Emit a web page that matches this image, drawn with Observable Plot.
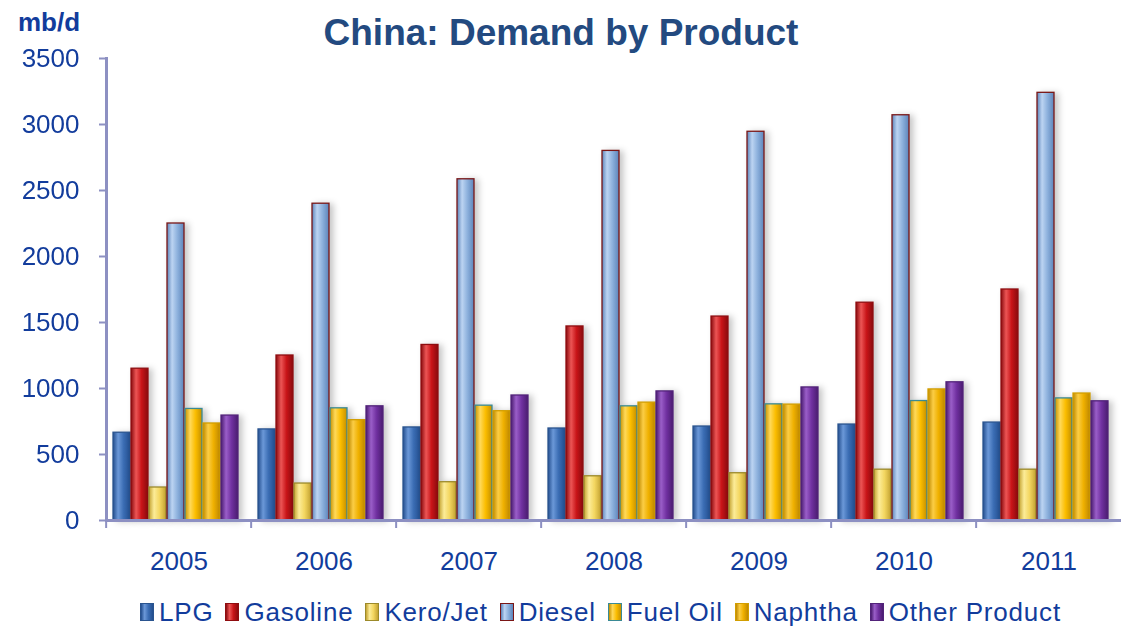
<!DOCTYPE html>
<html>
<head>
<meta charset="utf-8">
<script src="https://cdn.jsdelivr.net/npm/d3@7"></script>
<script src="https://cdn.jsdelivr.net/npm/@observablehq/plot@0.6"></script>
<style>
  body { margin: 0; background: #fff; font-family: "Liberation Sans", Arial, sans-serif; }
  #wrap { position: relative; width: 1125px; height: 626px; overflow: hidden; }
  #unit { position: absolute; left: 18px; top: 9px; font-size: 26px; font-weight: bold; color: #123c9c; line-height: 1; }
  #title { position: absolute; left: 0; width: 1122px; text-align: center; top: 14px; font-size: 37px; font-weight: bold; color: #234a80; line-height: 1; }
  #chart { position: absolute; left: 0; top: 36px; }
  #chart g[aria-label="bar"] { filter: drop-shadow(4px 1px 3px rgba(0,0,0,0.22)); }
  #legend { position: absolute; top: 599px; left: 140px; display: flex; align-items: center; white-space: nowrap; }
  .item { display: flex; align-items: center; margin-right: 12px; }
  .sw { width: 14px; height: 18px; margin-right: 5px; box-sizing: border-box; border: 1.5px solid; }
  .lab { font-size: 26px; color: #123c9c; line-height: 1; letter-spacing: 0.8px; }
</style>
</head>
<body>
<svg width="0" height="0" style="position:absolute">
  <defs id="gdefs"></defs>
</svg>
<div id="wrap">
  <div id="unit">mb/d</div>
  <div id="title">China: Demand by Product</div>
  <div id="chart"></div>
  <div id="legend"></div>
</div>
<script>
// ---- data ----
const years = ["2005", "2006", "2007", "2008", "2009", "2010", "2011"];
const products = ["LPG", "Gasoline", "Kero/Jet", "Diesel", "Fuel Oil", "Naphtha", "Other Product"];
const lpg      = [665, 690, 705, 697, 712, 727, 742];
const gasoline = [1150, 1250, 1330, 1470, 1545, 1650, 1750];
const keroJet  = [250, 280, 290, 335, 358, 385, 385];
const diesel   = [2250, 2400, 2585, 2800, 2945, 3070, 3240];
const fuelOil  = [845, 850, 870, 865, 880, 905, 925];
const naphtha  = [735, 760, 828, 893, 878, 993, 962];
const other    = [795, 865, 947, 978, 1008, 1047, 903];
const yTicks   = [0, 500, 1000, 1500, 2000, 2500, 3000, 3500];

const series = [lpg, gasoline, keroJet, diesel, fuelOil, naphtha, other];
const rows = years.flatMap((yr, i) => products.map((p, j) => ({year: yr, product: p, value: series[j][i]})));

// ---- styles ----
// [dark edge, highlight, base, outline]
const shades = [
  ["#234e8e", "#6b98d8", "#3b6db4", "#2a548f"],
  ["#8a0b0e", "#ec5555", "#c81418", "#8f0d10"],
  ["#c4a332", "#fcec98", "#f3d660", "#9c8a2a"],
  ["#5c84ba", "#bcd4f2", "#8cb0dc", "#7a1616"],
  ["#c59000", "#ffd95a", "#fbbd00", "#3a8a95"],
  ["#bf8900", "#fbcd45", "#efb000", "#d29e00"],
  ["#4a1c70", "#9a5ec8", "#7030a0", "#52237a"]
];
const axisCol = "#8d90c2";
const textCol = "#123c9c";

const defs = d3.select("#gdefs");
shades.forEach((s, j) => {
  const g = defs.append("linearGradient").attr("id", "grad" + j).attr("x1", "0").attr("x2", "1").attr("y1", "0").attr("y2", "0");
  g.append("stop").attr("offset", "0").attr("stop-color", s[0]);
  g.append("stop").attr("offset", "0.3").attr("stop-color", s[1]);
  g.append("stop").attr("offset", "0.62").attr("stop-color", s[2]);
  g.append("stop").attr("offset", "1").attr("stop-color", s[0]);
});

const W = 1125, ML = 103, MR = 2;
const step = (W - ML - MR) / years.length;

const chart = Plot.plot({
  width: W,
  height: 558,
  marginTop: 22,
  marginBottom: 74,
  marginLeft: ML,
  marginRight: MR,
  style: {fontFamily: "'Liberation Sans', Arial, sans-serif", background: "transparent", overflow: "visible"},
  fx: {domain: years, padding: 0, label: null},
  x: {domain: products, paddingInner: 0.03, paddingOuter: 0.5, align: 0.38, axis: null},
  y: {domain: [0, 3500], label: null},
  marks: [
    ...products.map((p, j) => Plot.barY(rows.filter(d => d.product === p), {
      fx: "year", x: "product", y: "value",
      fill: `url(#grad${j})`, stroke: shades[j][3], strokeWidth: 1.3
    })),
    Plot.ruleY([0], {stroke: axisCol, strokeWidth: 3}),
    Plot.frame({anchor: "left", facetAnchor: "left", stroke: axisCol, strokeWidth: 3}),
    Plot.axisY({ticks: yTicks, tickSize: 7, tickPadding: 20, stroke: axisCol, strokeWidth: 2,
      fill: textCol, fontSize: 26, label: null, tickFormat: d => String(d)}),
    Plot.axisFx({anchor: "bottom", tickSize: 0, tickPadding: 31, fill: textCol, fontSize: 26, label: null}),
    Plot.axisFx({anchor: "bottom", tickSize: 8, tickFormat: () => "", dx: -step / 2, stroke: axisCol, strokeWidth: 2, label: null})
  ]
});
document.getElementById("chart").appendChild(chart);

// legend
const leg = d3.select("#legend");
products.forEach((p, j) => {
  const s = shades[j];
  const it = leg.append("div").attr("class", "item");
  it.append("div").attr("class", "sw")
    .style("background", `linear-gradient(to right, ${s[0]}, ${s[1]} 30%, ${s[2]} 62%, ${s[0]})`)
    .style("border-color", s[3]);
  it.append("span").attr("class", "lab").text(p);
});
</script>
</body>
</html>
